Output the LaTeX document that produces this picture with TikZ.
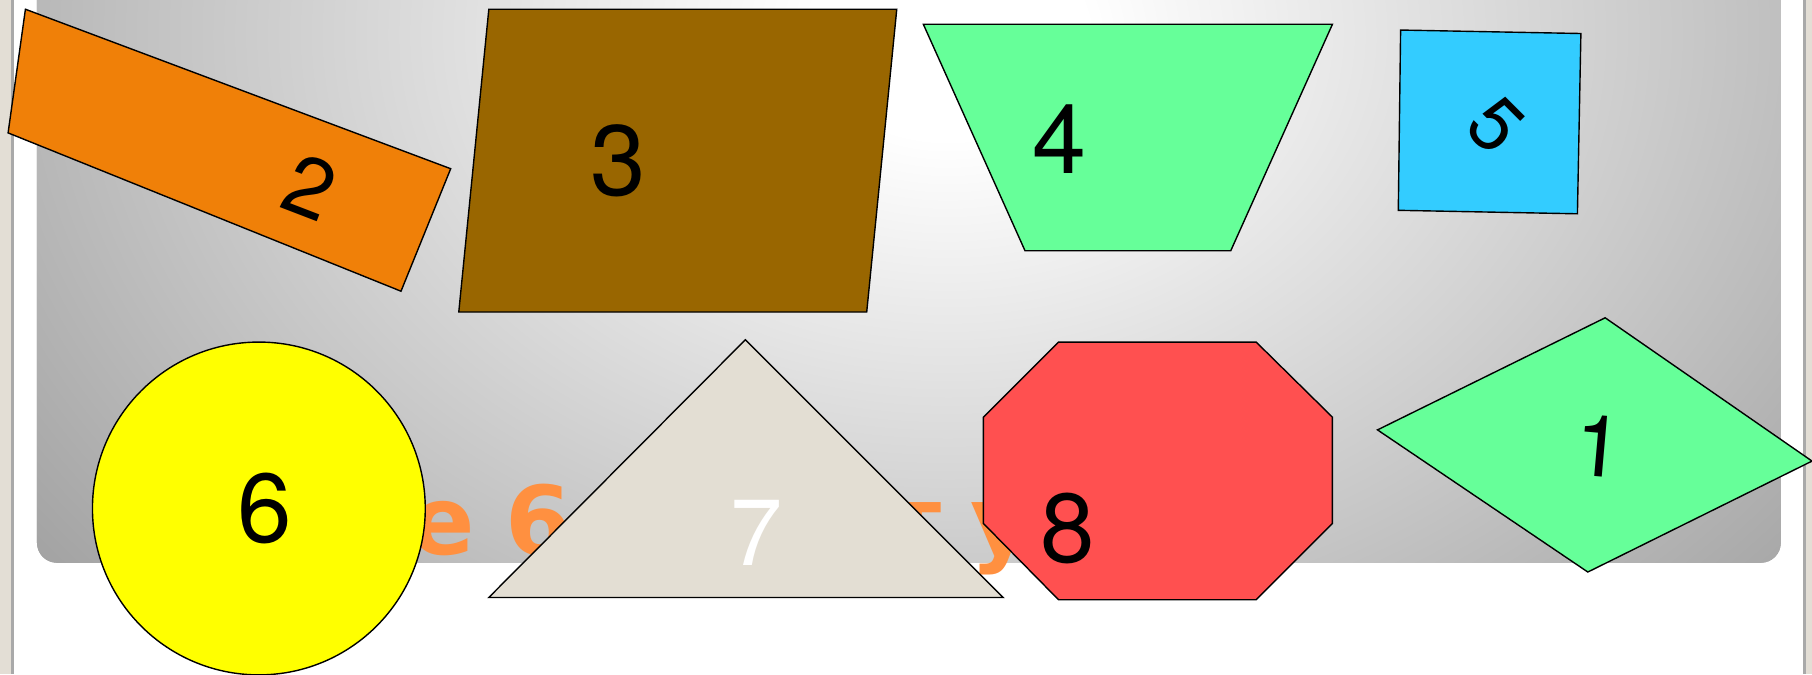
\documentclass[tikz,border=0pt]{standalone}
\usepackage{fontspec}
\newfontfamily\numfont{TeX Gyre Heros}
\newfontfamily\ttlfont{DejaVu Sans}
\definecolor{beige}{HTML}{E3DED5}
\definecolor{edgegray}{HTML}{A9A9A9}
\definecolor{orangeA}{HTML}{F08008}
\definecolor{brownA}{HTML}{996600}
\definecolor{greenA}{HTML}{66FF99}
\definecolor{blueA}{HTML}{33CCFF}
\definecolor{redA}{HTML}{FF5050}
\definecolor{yellowA}{HTML}{FFFF00}
\definecolor{triA}{HTML}{E3DED3}
\definecolor{ttlor}{HTML}{FF9040}
\definecolor{panelout}{HTML}{A2A2A2}
\pgfdeclareradialshading{panelshade}{\pgfpoint{0bp}{0bp}}{color(0bp)=(white); color(3bp)=(white); color(25bp)=(panelout); color(50bp)=(panelout)}
\tikzset{
  shp/.style={draw=black, line width=1.4pt, line join=miter},
  num/.style={inner sep=0pt, font=\numfont\fontsize{#1}{#1}\selectfont},
  ttl/.style={inner sep=0pt, text=ttlor, font=\ttlfont\bfseries\fontsize{95}{95}\selectfont}
}
\begin{document}
\begin{tikzpicture}[x=1.1556pt,y=-1.1556pt]
\useasboundingbox (0,0) rectangle (1568,583.25);
\fill[white] (0,0) rectangle (1568,583.25);
\fill[beige] (0,0) rectangle (9.5,583.25);
\fill[edgegray] (9.5,0) rectangle (12,583.25);
\fill[edgegray] (1560,0) rectangle (1563,583.25);
\fill[beige] (1563,0) rectangle (1568,583.25);
\begin{scope}
  \clip[rounded corners=20pt] (32,-40) rectangle (1541,487);
  \fill[panelout] (0,-50) rectangle (1568,500);
  \shade[shading=panelshade] (820,30) ellipse [x radius=1000, y radius=750];
\end{scope}
% orange title letters (partly hidden)
\node[ttl, anchor=base east] (te) at (411,480) {е};
\node[ttl, anchor=base west] (t6) at (437,480) {6};
\node[ttl, anchor=base east] (tt) at (815,480) {т};
\node[ttl, anchor=base west] (tu) at (840,480) {у};
% shapes
\draw[shp, fill=orangeA] (22,8) -- (390,146) -- (347,252) -- (7,115) -- cycle;
\draw[shp, fill=brownA] (423,8) -- (776,8) -- (750,270) -- (397,270) -- cycle;
\draw[shp, fill=greenA] (799,21) -- (1153,21) -- (1065,217) -- (887,217) -- cycle;
\draw[shp, fill=blueA] (1212,26) -- (1368,29) -- (1365,185) -- (1210,182) -- cycle;
\draw[shp, fill=yellowA] (224,440) circle (144);
\draw[shp, fill=triA] (645,294) -- (868,517) -- (423,517) -- cycle;
\draw[shp, fill=redA] (916,296) -- (1087,296) -- (1153,361) -- (1153,453) -- (1087,519) -- (916,519) -- (851,453) -- (851,361) -- cycle;
\draw[shp, fill=greenA] (1192,372) -- (1389,275) -- (1568,399) -- (1374,495) -- cycle;
% numbers
\node[num=84, rotate=-21] (n2) at (268,162) {2};
\node[num=100] (n3) at (535,139) {3};
\node[num=97] (n4) at (917,120) {4};
\node[num=76, rotate=-45] (n5) at (1294,108) {5};
\node[num=98] (n6) at (229,440) {6};
\node[num=94, text=white] (n7) at (655,461) {7};
\node[num=98] (n8) at (924,457) {8};
\node[num=86, rotate=-5] (n1) at (1384,386) {1};
\end{tikzpicture}
\end{document}
